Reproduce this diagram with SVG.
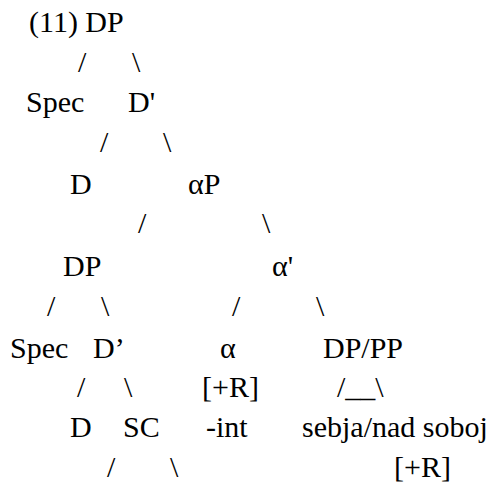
<svg xmlns="http://www.w3.org/2000/svg" width="497" height="485" viewBox="0 0 497 485">
<style>
text{font-family:'Liberation Serif','Times New Roman',serif;font-size:30px;fill:#000}
</style>
<rect width="497" height="485" fill="#fff"/>
<g id="connectors">
<text x="78" y="71.5">/</text><text x="132" y="71.5">\</text>
<text x="100" y="151.5">/</text><text x="163" y="151.5">\</text>
<text x="138" y="233">/</text><text x="262" y="233">\</text>
<text x="47" y="316">/</text><text x="101" y="316">\</text><text x="232" y="316">/</text><text x="316" y="316">\</text>
<text x="77" y="397">/</text><text x="124" y="397">\</text><text x="337" y="397">/__\</text>
<text x="107" y="477">/</text><text x="170" y="477">\</text>
</g>
<g id="n-dp1"><text x="29" y="32">(11) DP</text></g>
<g id="n-spec1"><text x="26" y="111.5">Spec</text></g>
<g id="n-dbar1"><text x="128" y="111.5">D'</text></g>
<g id="n-d1"><text x="70" y="194">D</text></g>
<g id="n-ap"><text x="188" y="194">αP</text></g>
<g id="n-dp2"><text x="63" y="276">DP</text></g>
<g id="n-abar"><text x="272" y="276">α'</text></g>
<g id="n-spec2"><text x="10" y="358">Spec</text></g>
<g id="n-dbar2"><text x="93" y="358">D’</text></g>
<g id="n-alpha"><text x="220" y="358">α</text><text x="202" y="397">[+R]</text><text x="206" y="437">-int</text></g>
<g id="n-dppp"><text x="323" y="358">DP/PP</text></g>
<g id="n-d2"><text x="70" y="437">D</text></g>
<g id="n-sc"><text x="123" y="437">SC</text></g>
<g id="n-sebja"><text x="302" y="437">sebja/nad soboj</text><text x="394" y="477">[+R]</text></g>
</svg>
